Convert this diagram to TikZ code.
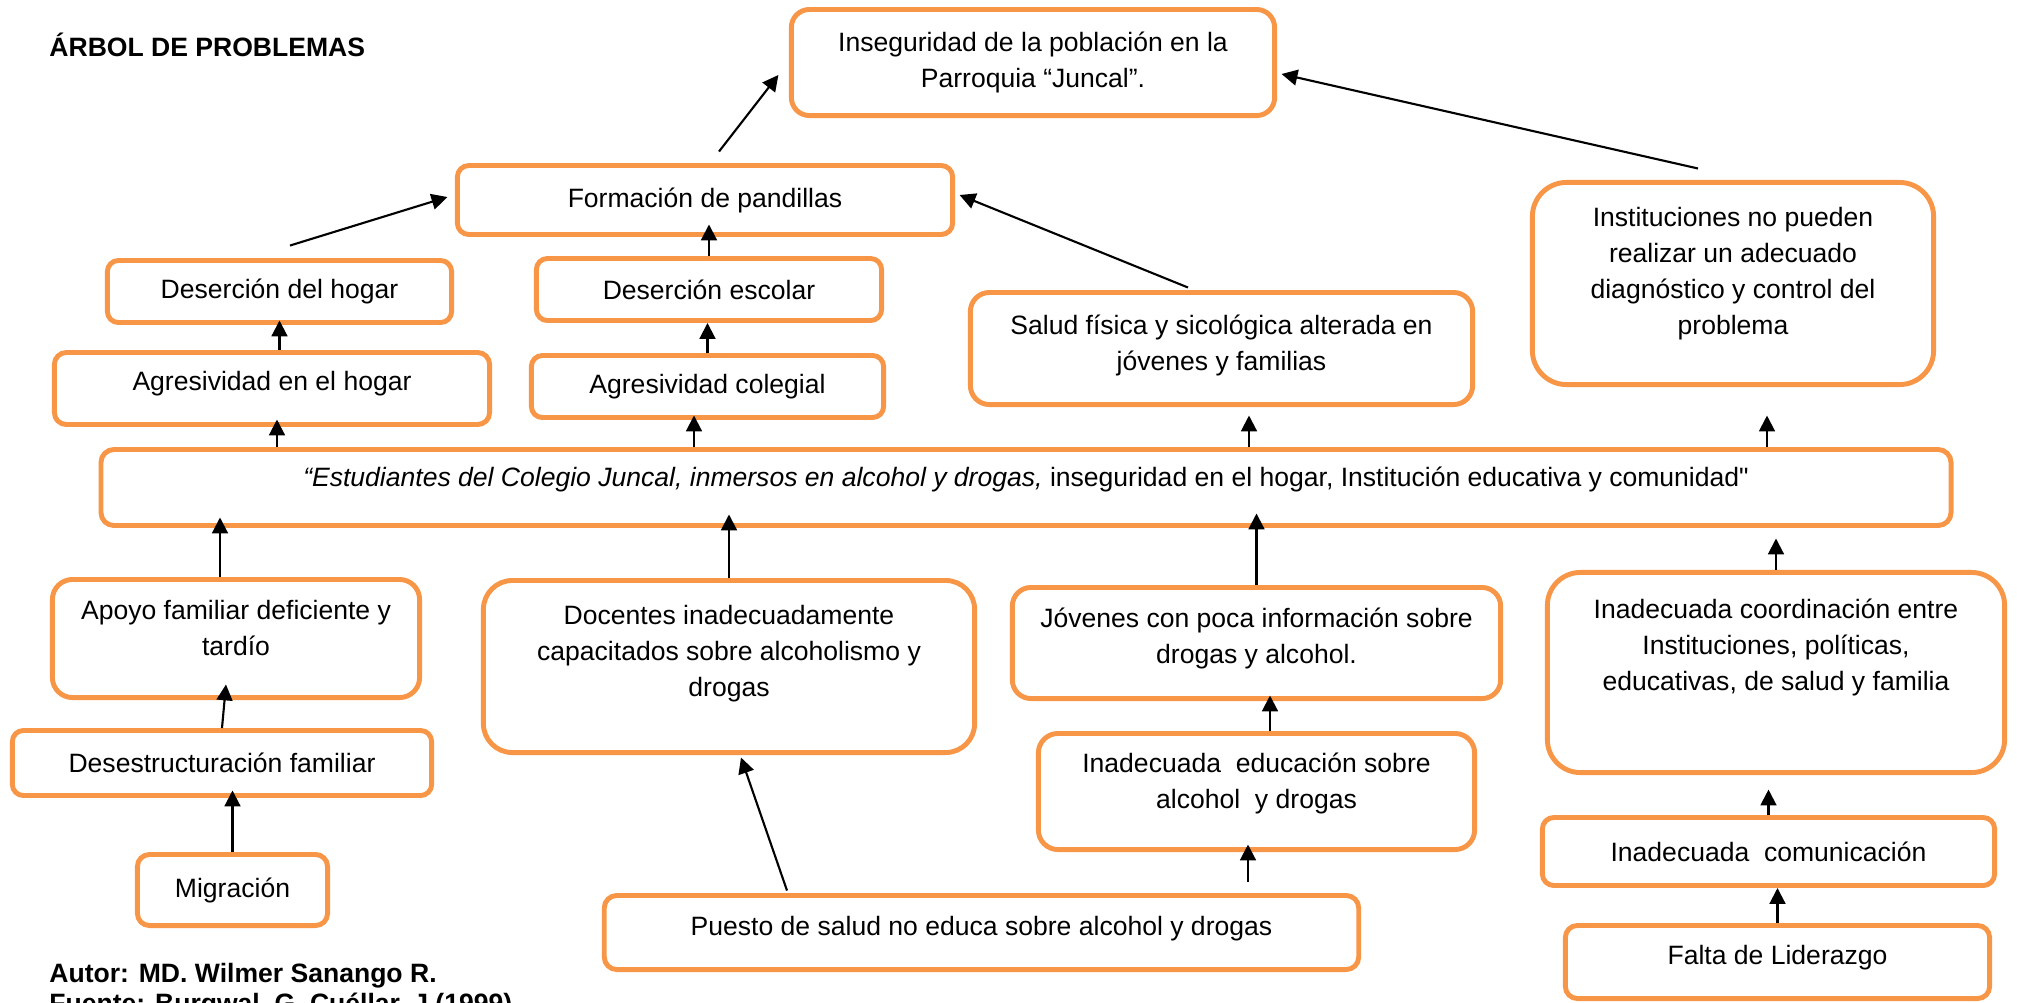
\documentclass[tikz,border=0pt]{standalone}
\usepackage{fontspec}
\setmainfont{Liberation Sans}
\usetikzlibrary{arrows.meta,calc}
\definecolor{naranja}{HTML}{F79646}
\newcommand{\letra}{\fontsize{7.55pt}{10.25pt}\selectfont}

\begin{document}
\begin{tikzpicture}[x=0.01cm,y=-0.01cm,
  caja/.style={shape=rectangle,draw=naranja,line width=1.4pt,rounded corners=1.1mm,
    align=center,inner sep=0pt,font=\letra},
  sube/.style={text depth=#1},
  flecha/.style={-{Triangle[length=4.5pt,width=4.5pt]},line width=0.6pt}]
  \useasboundingbox (0,0) rectangle (2017,1002);

  \node[anchor=base west,font=\letra\bfseries] (titulo) at (37,56) {ÁRBOL DE PROBLEMAS};
  \node[anchor=base west,font=\letra\bfseries] (autor) at (37,982) {Autor: MD. Wilmer Sanango R.};
  \node[anchor=base west,font=\letra\bfseries] (fuente) at (37,1012) {Fuente: Burgwal, G. Cuéllar, J (1999).};

  % efectos
  \node[caja,minimum width=4.83cm,minimum height=1.06cm,rounded corners=1.8mm] (ins) at (1033,62.5) {Inseguridad de la población en la\\Parroquia “Juncal”.};
  \node[caja,minimum width=4.95cm,minimum height=0.69cm,rounded corners=1.15mm] (form) at (705,200) {Formación de pandillas};
  \node[caja,minimum width=3.44cm,minimum height=0.62cm] (deshog) at (279.5,291.5) {Deserción del hogar};
  \node[caja,minimum width=3.45cm,minimum height=0.62cm] (desesc) at (709,289.5) {Deserción escolar};
  \node[caja,minimum width=4.35cm,minimum height=0.72cm,rounded corners=1.2mm,sube=4.5pt] (agrhog) at (272,388.5) {Agresividad en el hogar};
  \node[caja,minimum width=3.52cm,minimum height=0.62cm] (agrcol) at (707.5,386.5) {Agresividad colegial};
  \node[caja,minimum width=5.02cm,minimum height=1.12cm,rounded corners=1.9mm,sube=3.5pt] (salud) at (1221.5,348.5) {Salud física y sicológica alterada en\\jóvenes y familias};
  \node[caja,minimum width=4.01cm,minimum height=2.02cm,rounded corners=3.4mm,sube=7pt] (inst) at (1733,283.5) {Instituciones no pueden\\realizar un adecuado\\diagnóstico y control del\\problema};

  % problema central
  \node[caja,minimum width=18.49cm,minimum height=0.76cm,rounded corners=1.3mm,sube=6pt] (main) at (1026,487.5) {\textit{“Estudiantes del Colegio Juncal, inmersos en alcohol y drogas,} inseguridad en el hogar, Institución educativa y comunidad\textquotedbl};

  % causas
  \node[caja,minimum width=3.67cm,minimum height=1.18cm,rounded corners=2mm,sube=6pt] (apoyo) at (236,638.5) {Apoyo familiar deficiente y\\tardío};
  \node[caja,minimum width=4.19cm,minimum height=0.65cm] (desest) at (222,763) {Desestructuración familiar};
  \node[caja,minimum width=1.9cm,minimum height=0.71cm,rounded corners=1.2mm] (migr) at (232.5,890) {Migración};
  \node[caja,minimum width=4.91cm,minimum height=1.72cm,rounded corners=2.9mm,sube=9pt] (doc) at (729,666.5) {Docentes inadecuadamente\\capacitados sobre alcoholismo y\\drogas};
  \node[caja,minimum width=7.54cm,minimum height=0.74cm,rounded corners=1.25mm,sube=4pt] (puesto) at (981.5,932.5) {Puesto de salud no educa sobre alcohol y drogas};
  \node[caja,minimum width=4.88cm,minimum height=1.11cm,rounded corners=1.85mm,sube=4pt] (jov) at (1256.5,643) {Jóvenes con poca información sobre\\drogas y alcohol.};
  \node[caja,minimum width=4.36cm,minimum height=1.16cm,rounded corners=1.95mm,sube=6pt] (edu) at (1256.5,791.5) {Inadecuada~ educación sobre\\alcohol~ y drogas};
  \node[caja,minimum width=4.57cm,minimum height=2cm,rounded corners=3.3mm,sube=16pt] (coord) at (1776,672.5) {Inadecuada coordinación entre\\Instituciones, políticas,\\educativas, de salud y familia};
  \node[caja,minimum width=4.52cm,minimum height=0.68cm,rounded corners=1.15mm] (com) at (1768.5,851.5) {Inadecuada~ comunicación};
  \node[caja,minimum width=4.24cm,minimum height=0.73cm,rounded corners=1.2mm,sube=4pt] (falta) at (1777.5,962) {Falta de Liderazgo};

  % flechas de efectos
  \draw[flecha] ($(form.north)+(14,-11.5)$) -- ($(ins.west)+(-10.5,12.5)$);
  \draw[flecha] ($(inst.north)+(-35,-11.5)$) -- ($(ins.east)+(4.5,11.5)$);
  \draw[flecha] ($(deshog.north)+(10.5,-12.5)$) -- ($(form.west)+(-7.5,-3)$);
  \draw[flecha] ($(salud.north)+(-33.5,-2.5)$) -- ($(form.east)+(4.5,-5)$);
  \draw[flecha,shorten >=-1.25mm] (desesc.north) -- (desesc.north |- form.south);
  \draw[flecha,shorten >=-0.45mm] (agrhog.north -| deshog.south) -- (deshog.south);
  \draw[flecha] (agrcol.north) -- (agrcol.north |- desesc.south);
  \draw[flecha] ($(agrhog.south |- main.north)+(5,0)$) -- ($(agrhog.south)+(5,-7.5)$);
  \draw[flecha] ($(agrcol.south |- main.north)+(-13.5,0)$) -- ($(agrcol.south)+(-13.5,-4.5)$);
  \draw[flecha] ($(salud.south |- main.north)+(27.5,0)$) -- ($(salud.south)+(27.5,8.5)$);
  \draw[flecha] ($(inst.south |- main.north)+(34,0)$) -- ($(inst.south)+(34,28.5)$);

  % flechas de causas
  \draw[flecha] ($(apoyo.north)+(-16,0)$) -- ($(apoyo.north |- main.south)+(-16,-10.5)$);
  \draw[flecha,shorten >=-1.35mm] (doc.north) -- (doc.north |- main.south);
  \draw[flecha,shorten >=-1.45mm] (jov.north) -- (jov.north |- main.south);
  \draw[flecha,shorten >=1.05mm] (coord.north) -- (coord.north |- main.south);
  \draw[flecha] (desest.north) -- ($(apoyo.south)+(-10,-15.5)$);
  \draw[flecha,shorten >=-0.75mm] (migr.north) -- (migr.north |- desest.south);
  \draw[flecha] ($(puesto.north)+(-194.5,-2.5)$) -- ($(doc.south)+(12,2.5)$);
  \draw[flecha] ($(edu.south |- puesto.north)+(-8.5,-11.5)$) -- ($(edu.south)+(-8.5,-7.5)$);
  \draw[flecha] ($(edu.north)+(13.5,0)$) -- ($(jov.south)+(13.5,-5.5)$);
  \draw[flecha,shorten >=1.45mm] (com.north) -- (com.north |- coord.south);
  \draw[flecha] (falta.north) -- (falta.north |- com.south);
\end{tikzpicture}
\end{document}
